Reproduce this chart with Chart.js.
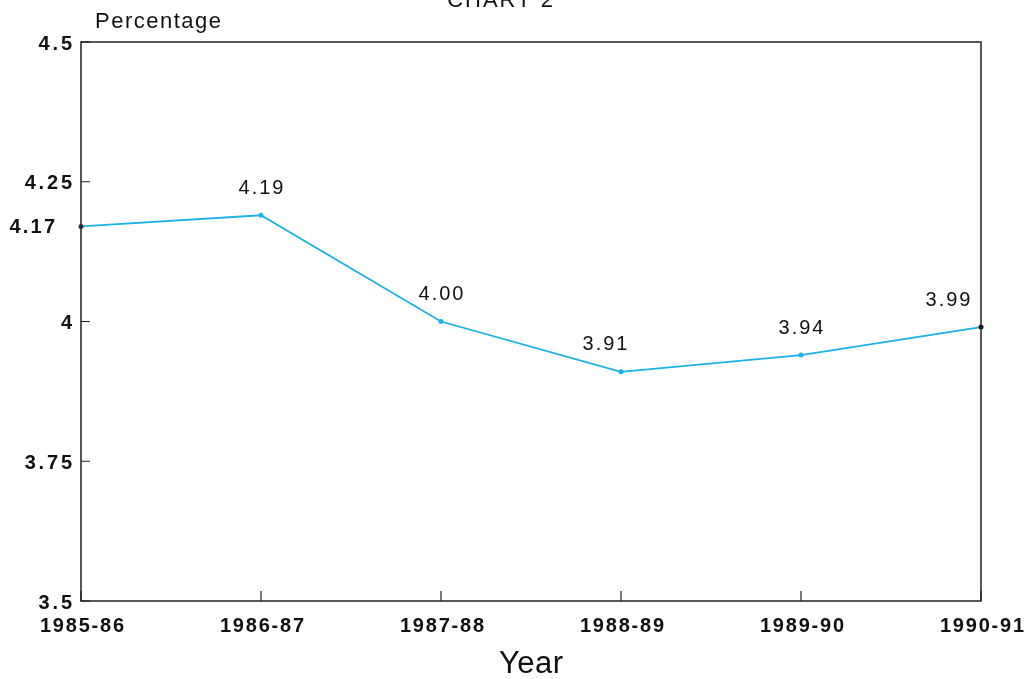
<!DOCTYPE html>
<html>
<head>
<meta charset="utf-8">
<script src="https://cdn.jsdelivr.net/npm/chart.js@4/dist/chart.umd.min.js"></script>
<style>
  html, body { margin: 0; padding: 0; background: #fff; }
  #wrap { width: 1033px; height: 679px; }
</style>
</head>
<body>
<div id="wrap"><canvas id="chart2" width="1033" height="679"></canvas></div>
<script>
const years = ["1985-86", "1986-87", "1987-88", "1988-89", "1989-90", "1990-91"];
const percentages = [4.17, 4.19, 4.00, 3.91, 3.94, 3.99];
const valueLabels = ["", "4.19", "4.00", "3.91", "3.94", "3.99"];
const sideLabel = "4.17";

const FONT = "'Liberation Sans', Arial, sans-serif";
const lineColor = "#1ab2e8";

function spacedText(ctx, text, x, y, spacing) {
  ctx.letterSpacing = spacing + "px";
  const w = ctx.measureText(text).width - spacing;
  const align = ctx.textAlign;
  ctx.textAlign = "left";
  let sx = x;
  if (align === "center") sx = x - w / 2;
  if (align === "right") sx = x - w;
  ctx.fillText(text, sx, y);
  ctx.textAlign = align;
  ctx.letterSpacing = "0px";
}

// frame, inward ticks, tick labels, titles and value labels
const decorations = {
  id: "decorations",
  afterDraw(chart) {
    const ctx = chart.ctx;
    const a = chart.chartArea;
    const x = chart.scales.x;
    const y = chart.scales.y;
    ctx.save();
    ctx.strokeStyle = "#222";
    ctx.lineWidth = 1.5;
    ctx.strokeRect(a.left, a.top, a.right - a.left, a.bottom - a.top);

    ctx.lineWidth = 1.2;
    ctx.beginPath();
    y.ticks.forEach((t, i) => {
      const py = y.getPixelForTick(i);
      ctx.moveTo(a.left, py);
      ctx.lineTo(a.left + 9, py);
    });
    x.ticks.forEach((t, i) => {
      const px = x.getPixelForTick(i);
      ctx.moveTo(px, a.bottom);
      ctx.lineTo(px, a.bottom - 10);
    });
    ctx.stroke();

    ctx.fillStyle = "#111";
    ctx.textBaseline = "middle";

    // y tick labels
    ctx.textAlign = "right";
    ctx.font = "bold 20px " + FONT;
    y.ticks.forEach((t, i) => {
      const txt = String(+t.value.toFixed(2));
      spacedText(ctx, txt, a.left - 9, y.getPixelForTick(i) + 2, 2.8);
    });
    spacedText(ctx, sideLabel, a.left - 26, y.getPixelForValue(percentages[0]) + 1, 2.2);

    // x tick labels
    ctx.textAlign = "center";
    ctx.font = "bold 20px " + FONT;
    x.ticks.forEach((t, i) => {
      spacedText(ctx, years[i], x.getPixelForTick(i) + 1, a.bottom + 25, 1.8);
    });

    ctx.textBaseline = "alphabetic";
    ctx.font = "22px " + FONT;
    spacedText(ctx, "CHART 2", 500, 7, 2);

    ctx.textAlign = "left";
    spacedText(ctx, "Percentage", 95, 28, 1.5);

    ctx.textAlign = "center";
    ctx.font = "31px " + FONT;
    spacedText(ctx, "Year", 531, 673, 0.5);

    // value labels above points
    const meta = chart.getDatasetMeta(0);
    ctx.font = "20px " + FONT;
    ctx.textBaseline = "middle";
    meta.data.forEach((pt, i) => {
      if (!valueLabels[i]) return;
      let dx = 0;
      if (i === meta.data.length - 1) dx = -33;
      if (i === 3) dx = -16;
      spacedText(ctx, valueLabels[i], pt.x + dx, pt.y - 27, 2);
    });
    ctx.restore();
  }
};

const config_chart2 = {
  type: "line",
  data: {
    labels: years,
    datasets: [
      {
        data: percentages,
        borderColor: lineColor,
        borderWidth: 1.8,
        tension: 0,
        pointRadius: 2.5,
        pointBackgroundColor: ["#1a3a5a", lineColor, lineColor, lineColor, lineColor, "#111"],
        pointBorderWidth: 0,
        clip: false,
      },
    ],
  },
  options: {
    responsive: false,
    animation: false,
    layout: {
      padding: { left: 0, right: 52, top: 42, bottom: 0 },
    },
    scales: {
      x: {
        offset: false,
        grid: { display: false, drawTicks: false },
        border: { display: false },
        ticks: { display: false, autoSkip: false },
        afterFit(scale) { scale.height = 78; },
      },
      y: {
        min: 3.5,
        max: 4.5,
        grid: { display: false, drawTicks: false },
        border: { display: false },
        ticks: { display: false, stepSize: 0.25 },
        afterFit(scale) { scale.width = 81; },
      },
    },
    plugins: {
      legend: { display: false },
      tooltip: { enabled: false },
      title: { display: false },
    },
  },
  plugins: [decorations],
};

const chart2 = new Chart(document.getElementById("chart2"), config_chart2);
</script>
</body>
</html>
